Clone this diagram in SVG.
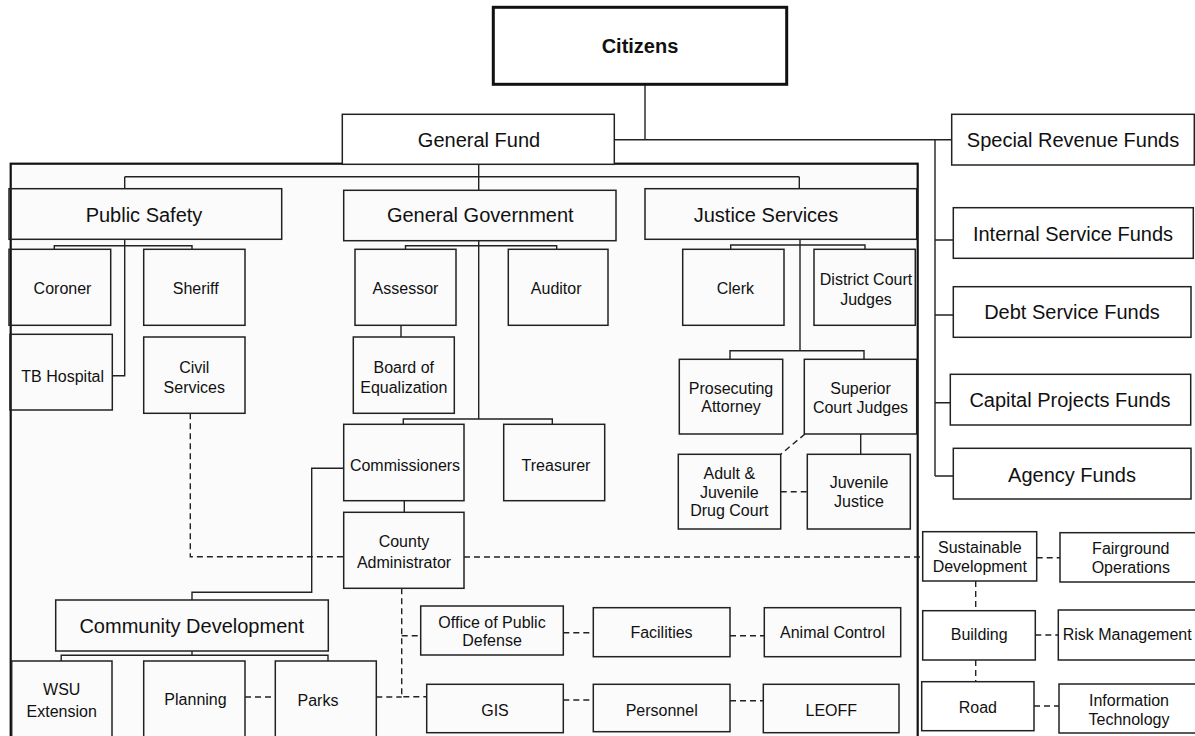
<svg xmlns="http://www.w3.org/2000/svg" width="1195" height="736" viewBox="0 0 1195 736">
<style>
.bx{fill:none;stroke:#222;stroke-width:1.5}
.wb{fill:#fff;stroke:#222;stroke-width:1.5}
.t{font-family:"Liberation Sans",Arial,sans-serif;fill:#111;text-anchor:middle}
.s20{font-size:20px}
.s16{font-size:16px}
.b{font-weight:bold}
.ln{fill:none;stroke:#222;stroke-width:1.4}
.ds{fill:none;stroke:#222;stroke-width:1.4;stroke-dasharray:6 4}
</style>
<rect width="1195" height="736" fill="#fff"/>
<rect id="frame" x="10.7" y="163.7" width="907" height="590" fill="#fbfbfb" stroke="#111" stroke-width="2.2"/>

<g id="connectors">
  <path class="ln" d="M645 84.3V139.7M614.3 139.7H951.7M935 139.7V476M935 240H953.3M935 315H953.3M935 402.7H950.3M935 476H953.3"/>
  <path class="ln" d="M478.7 164.3V190.3M124.7 176.7H799.3M124.7 176.7V188.7M799.3 176.7V188.7"/>
  <path class="ln" d="M124.7 239.3V375.7H112.3M54.3 249.3V245.7H192V249.3"/>
  <path class="ln" d="M478.7 240.7V419M405.5 249.3V245.7H556.7V249.3M401 325.3V337M403.3 424.3V419H552.3V424.3M404.3 500.7V512.3"/>
  <path class="ln" d="M343.7 468.3H311.7V592.3H192V600M192 651V655.3M61.2 661V655.3H328V661"/>
  <path class="ln" d="M800 239.3V350.7M730.7 249.3V245H865V249.3M730 359.3V350.7H864V359.3M860.7 434V454.3"/>
  <path class="ds" d="M190.3 413.3V556.7H343.7"/>
  <path class="ds" d="M464 557H922.7"/>
  <path class="ds" d="M401.7 588.3V696.7H426.7M401.7 635.7H420.7"/>
  <path class="ds" d="M245 697H275.3M376.3 697H401.7"/>
  <path class="ds" d="M563.3 632.7H593.3M730 635.7H764.3M563.3 700H593.3M730 700.7H763.3"/>
  <path class="ds" d="M805 434L780.7 454.3M780.7 491.7H807.3"/>
  <path class="ds" d="M1036.7 557.7H1060M975.7 581V610.7M1035.3 635H1058.3M975.7 660V681.7M1034 706H1059"/>
</g>

<g id="citizens"><rect x="493.3" y="7.3" width="293.4" height="77" fill="#fff" stroke="#111" stroke-width="3"/><text class="t s20 b" x="640" y="53">Citizens</text></g>
<g id="general-fund"><rect class="wb" x="342.3" y="114.3" width="272" height="50"/><text class="t s20" x="479" y="146.7">General Fund</text></g>
<g id="special-revenue-funds"><rect class="wb" x="951.7" y="114.3" width="242.6" height="50.7"/><text class="t s20" x="1073" y="146.5">Special Revenue Funds</text></g>
<g id="internal-service-funds"><rect class="wb" x="953.3" y="207.7" width="240" height="50.6"/><text class="t s20" x="1073" y="240.5">Internal Service Funds</text></g>
<g id="debt-service-funds"><rect class="wb" x="953.3" y="286.7" width="237.7" height="50.6"/><text class="t s20" x="1072" y="319">Debt Service Funds</text></g>
<g id="capital-projects-funds"><rect class="wb" x="950.3" y="374.3" width="240.4" height="50.7"/><text class="t s20" x="1070" y="406.5">Capital Projects Funds</text></g>
<g id="agency-funds"><rect class="wb" x="953.3" y="448.3" width="237.7" height="50.7"/><text class="t s20" x="1072" y="481.5">Agency Funds</text></g>

<g id="public-safety"><rect class="bx" x="9" y="188.7" width="272.7" height="50.6"/><text class="t s20" x="144" y="221.7">Public Safety</text></g>
<g id="general-government"><rect class="bx" x="343.7" y="190.3" width="272.3" height="50.4"/><text class="t s20" x="480.3" y="222">General Government</text></g>
<g id="justice-services"><rect class="bx" x="645" y="188.7" width="271.7" height="50.6"/><text class="t s20" x="766" y="221.7">Justice Services</text></g>

<g id="coroner"><rect class="bx" x="9" y="249.3" width="101.7" height="76"/><text class="t s16" x="62.5" y="294">Coroner</text></g>
<g id="sheriff"><rect class="bx" x="143.7" y="249.3" width="101.3" height="76"/><text class="t s16" x="195.7" y="294">Sheriff</text></g>
<g id="tb-hospital"><rect class="bx" x="10" y="334.3" width="102.3" height="75.7"/><text class="t s16" x="62.7" y="381.7">TB Hospital</text></g>
<g id="civil-services"><rect class="bx" x="143.7" y="337" width="101.3" height="76.3"/><text class="t s16" x="194.3" y="372.7">Civil</text><text class="t s16" x="194.3" y="393.3">Services</text></g>

<g id="assessor"><rect class="bx" x="355" y="249.3" width="101" height="76"/><text class="t s16" x="405.5" y="294">Assessor</text></g>
<g id="auditor"><rect class="bx" x="508.3" y="249.3" width="99.7" height="76"/><text class="t s16" x="556.2" y="294">Auditor</text></g>
<g id="board-of-equalization"><rect class="bx" x="353.3" y="337" width="101" height="76.3"/><text class="t s16" x="403.8" y="372.7">Board of</text><text class="t s16" x="403.8" y="393.3">Equalization</text></g>
<g id="commissioners"><rect class="bx" x="343.7" y="424.3" width="120.3" height="76.4"/><text class="t s16" x="405" y="470.7">Commissioners</text></g>
<g id="treasurer"><rect class="bx" x="503.7" y="424.3" width="101" height="76.4"/><text class="t s16" x="556" y="470.7">Treasurer</text></g>
<g id="county-administrator"><rect class="bx" x="343.7" y="512.3" width="120.3" height="76"/><text class="t s16" x="404" y="546.5">County</text><text class="t s16" x="404" y="567.5">Administrator</text></g>

<g id="clerk"><rect class="bx" x="682.7" y="249.3" width="101.3" height="76"/><text class="t s16" x="735.3" y="294.3">Clerk</text></g>
<g id="district-court-judges"><rect class="bx" x="814" y="249.3" width="101.3" height="76"/><text class="t s16" x="866" y="285">District Court</text><text class="t s16" x="866" y="305">Judges</text></g>
<g id="prosecuting-attorney"><rect class="bx" x="679.3" y="359.3" width="103.4" height="74.7"/><text class="t s16" x="731" y="394">Prosecuting</text><text class="t s16" x="731" y="411.7">Attorney</text></g>
<g id="superior-court-judges"><rect class="bx" x="804.3" y="359.3" width="112.4" height="74.7"/><text class="t s16" x="860.5" y="394.3">Superior</text><text class="t s16" x="860.5" y="412.7">Court Judges</text></g>
<g id="adult-juvenile-drug-court"><rect class="bx" x="678.3" y="454.3" width="102.4" height="74.7"/><text class="t s16" x="729.3" y="479.3">Adult &amp;</text><text class="t s16" x="729.3" y="497.8">Juvenile</text><text class="t s16" x="729.3" y="516">Drug Court</text></g>
<g id="juvenile-justice"><rect class="bx" x="807.3" y="454.3" width="103" height="74.7"/><text class="t s16" x="859" y="488.3">Juvenile</text><text class="t s16" x="859" y="506.7">Justice</text></g>

<g id="community-development"><rect class="bx" x="55.7" y="600" width="272.6" height="51"/><text class="t s20" x="191.7" y="633.3">Community Development</text></g>
<g id="wsu-extension"><rect class="bx" x="11.7" y="661" width="100.3" height="85"/><text class="t s16" x="61.7" y="695">WSU</text><text class="t s16" x="61.7" y="716.7">Extension</text></g>
<g id="planning"><rect class="bx" x="143.7" y="661" width="101.3" height="85"/><text class="t s16" x="195.5" y="705">Planning</text></g>
<g id="parks"><rect class="bx" x="275.3" y="661" width="101" height="85"/><text class="t s16" x="318" y="705.7">Parks</text></g>

<g id="office-of-public-defense"><rect class="bx" x="420.7" y="606" width="142.6" height="49"/><text class="t s16" x="492" y="628.3">Office of Public</text><text class="t s16" x="492" y="646">Defense</text></g>
<g id="facilities"><rect class="bx" x="593.3" y="607.7" width="136.7" height="49"/><text class="t s16" x="661.5" y="638.3">Facilities</text></g>
<g id="animal-control"><rect class="bx" x="764.3" y="607.7" width="136.4" height="49"/><text class="t s16" x="832.5" y="638">Animal Control</text></g>
<g id="gis"><rect class="bx" x="426.7" y="684.3" width="136.6" height="48.4"/><text class="t s16" x="495" y="716">GIS</text></g>
<g id="personnel"><rect class="bx" x="593.3" y="684.3" width="136.7" height="47.4"/><text class="t s16" x="661.7" y="716">Personnel</text></g>
<g id="leoff"><rect class="bx" x="763.3" y="684.3" width="135.7" height="48.4"/><text class="t s16" x="831.3" y="716">LEOFF</text></g>

<g id="sustainable-development"><rect class="wb" x="922.7" y="531.7" width="114" height="49.3"/><text class="t s16" x="979.8" y="553.3">Sustainable</text><text class="t s16" x="979.8" y="571.7">Development</text></g>
<g id="fairground-operations"><rect class="wb" x="1060" y="532.7" width="140" height="49.3"/><text class="t s16" x="1130.8" y="554">Fairground</text><text class="t s16" x="1130.8" y="572.7">Operations</text></g>
<g id="building"><rect class="wb" x="922.7" y="610.7" width="112.6" height="49.3"/><text class="t s16" x="979.2" y="640">Building</text></g>
<g id="risk-management"><rect class="wb" x="1058.3" y="610" width="142" height="50"/><text class="t s16" x="1127.2" y="640">Risk Management</text></g>
<g id="road"><rect class="wb" x="921.7" y="681.7" width="112.3" height="49"/><text class="t s16" x="977.8" y="712.7">Road</text></g>
<g id="information-technology"><rect class="wb" x="1059" y="684" width="141" height="49"/><text class="t s16" x="1129" y="706">Information</text><text class="t s16" x="1129" y="724.7">Technology</text></g>
</svg>
